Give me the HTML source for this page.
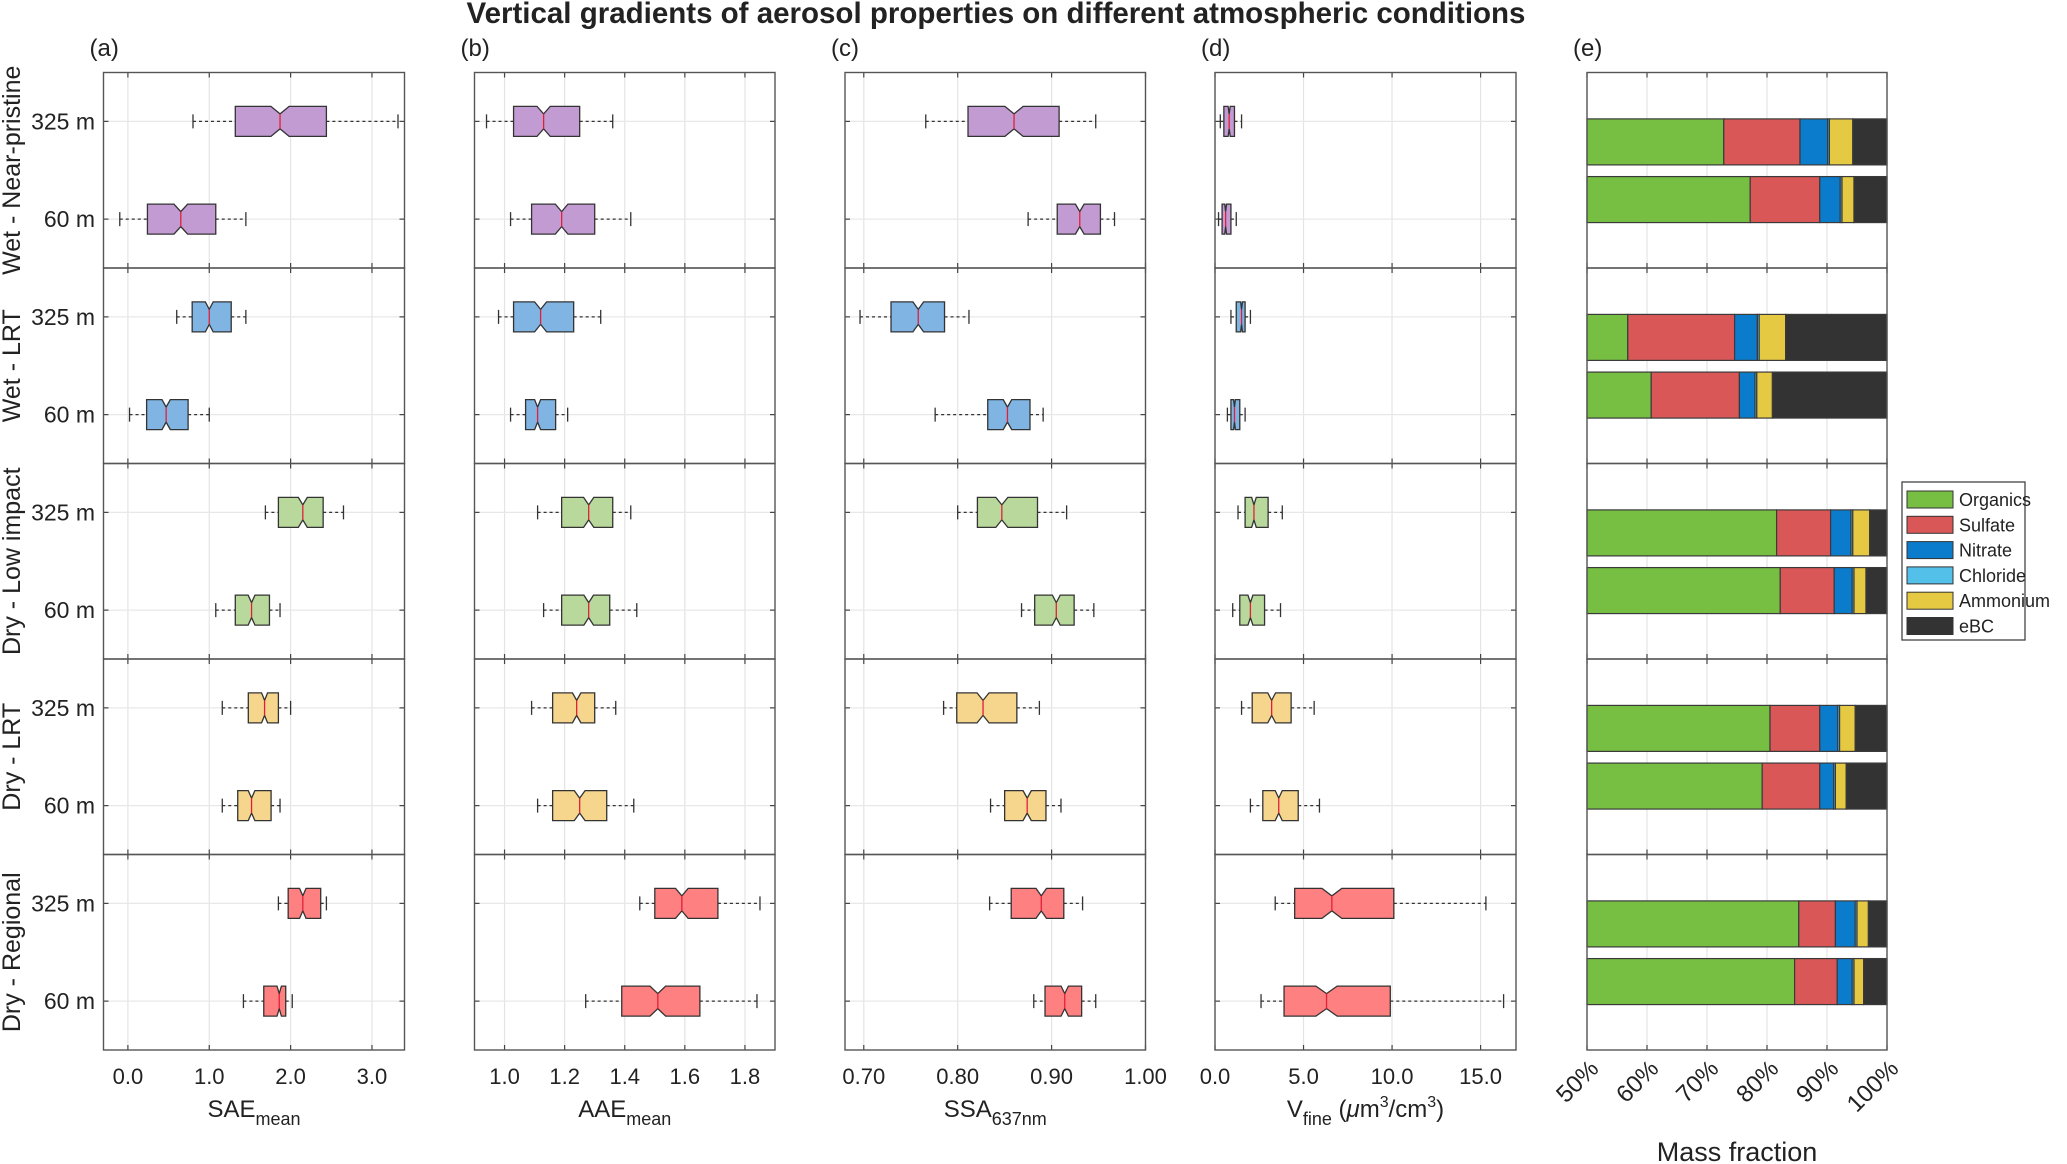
<!DOCTYPE html>
<html><head><meta charset="utf-8"><style>
html,body{margin:0;padding:0;background:#fff;}
svg{display:block;font-family:"Liberation Sans",Arial,sans-serif;}
</style></head><body>
<svg id="chart" width="2067" height="1164" viewBox="0 0 2067 1164" xmlns="http://www.w3.org/2000/svg">
<text x="996" y="23" text-anchor="middle" font-size="29.5" font-weight="bold" fill="#222">Vertical gradients of aerosol properties on different atmospheric conditions</text>
<g id="root"></g>
</svg>
<script>
// ---------- data ----------
const conditions = ["Wet - Near-pristine","Wet - LRT","Dry - Low impact","Dry - LRT","Dry - Regional"];
const heights = ["325 m","60 m"];
// box stats: [low whisker, q1, median, q3, high whisker] for [325 m, 60 m] per condition
const saeStats = [
 [[0.80,1.32,1.87,2.44,3.32],[-0.10,0.24,0.65,1.08,1.45]],
 [[0.60,0.79,1.00,1.27,1.45],[0.02,0.23,0.47,0.74,1.00]],
 [[1.69,1.85,2.15,2.40,2.65],[1.08,1.32,1.52,1.74,1.87]],
 [[1.16,1.48,1.68,1.85,2.00],[1.16,1.35,1.52,1.76,1.87]],
 [[1.85,1.97,2.15,2.37,2.44],[1.42,1.67,1.86,1.94,2.02]]
];
const aaeStats = [
 [[0.94,1.03,1.13,1.25,1.36],[1.02,1.09,1.19,1.30,1.42]],
 [[0.98,1.03,1.12,1.23,1.32],[1.02,1.07,1.11,1.17,1.21]],
 [[1.11,1.19,1.28,1.36,1.42],[1.13,1.19,1.28,1.35,1.44]],
 [[1.09,1.16,1.24,1.30,1.37],[1.11,1.16,1.25,1.34,1.43]],
 [[1.45,1.50,1.59,1.71,1.85],[1.27,1.39,1.51,1.65,1.84]]
];
const ssaStats = [
 [[0.766,0.811,0.860,0.908,0.947],[0.875,0.906,0.930,0.952,0.967]],
 [[0.696,0.729,0.758,0.786,0.812],[0.776,0.832,0.853,0.877,0.891]],
 [[0.800,0.821,0.847,0.885,0.916],[0.868,0.882,0.905,0.924,0.945]],
 [[0.785,0.799,0.827,0.863,0.887],[0.835,0.850,0.874,0.894,0.910]],
 [[0.834,0.857,0.889,0.913,0.933],[0.881,0.893,0.914,0.932,0.947]]
];
const vfineStats = [
 [[0.3,0.5,0.8,1.1,1.5],[0.2,0.4,0.6,0.9,1.2]],
 [[0.9,1.2,1.5,1.7,2.0],[0.7,0.9,1.1,1.4,1.7]],
 [[1.3,1.7,2.2,3.0,3.8],[1.0,1.4,2.0,2.8,3.7]],
 [[1.5,2.1,3.2,4.3,5.6],[2.0,2.7,3.6,4.7,5.9]],
 [[3.4,4.5,6.6,10.1,15.3],[2.6,3.9,6.3,9.9,16.3]]
];
// mass fractions (%) per condition for [325 m, 60 m]
const organics = [[72.8,77.2],[56.8,60.7],[81.6,82.2],[80.5,79.2],[85.3,84.6]];
const sulfate  = [[12.7,11.6],[17.8,14.7],[9.0,9.0],[8.3,9.6],[6.1,7.1]];
const nitrate  = [[4.6,3.4],[3.8,2.6],[3.4,3.0],[3.0,2.3],[3.3,2.5]];
const chloride = [[0.3,0.3],[0.3,0.3],[0.3,0.3],[0.3,0.3],[0.3,0.3]];
const ammonium = [[3.9,2.0],[4.4,2.6],[2.8,2.0],[2.6,1.8],[1.9,1.6]];
const saeTicks = [0,1,2,3], saeTickLabels = ["0.0","1.0","2.0","3.0"];
const aaeTicks = [1.0,1.2,1.4,1.6,1.8], aaeTickLabels = ["1.0","1.2","1.4","1.6","1.8"];
const ssaTicks = [0.7,0.8,0.9,1.0], ssaTickLabels = ["0.70","0.80","0.90","1.00"];
const vTicks = [0,5,10,15], vTickLabels = ["0.0","5.0","10.0","15.0"];
const mfTicks = [50,60,70,80,90,100], mfTickLabels = ["50%","60%","70%","80%","90%","100%"];
const species = ["Organics","Sulfate","Nitrate","Chloride","Ammonium","eBC"];

// ---------- layout ----------
const NS="http://www.w3.org/2000/svg";
const root=document.getElementById('root');
function mk(tag,attrs,parent){const e=document.createElementNS(NS,tag);for(const k in attrs)e.setAttribute(k,attrs[k]);(parent||root).appendChild(e);return e;}
const TOP=72.5, ROWH=195.5, NR=5, BOTTOM=TOP+ROWH*NR;
const rowColors=["#c39bd3","#7fb4e3","#b9d89b","#f6d58d","#ff8080"];
const specColors=["#77bf42","#d95757","#0a7ccb","#53c0ea","#e6c942","#333333"];
function yPos(r,h){return TOP+r*ROWH+(h===0?0.25:0.75)*ROWH;}
function yBar(r,h){return TOP+r*ROWH+(h===0?0.355:0.65)*ROWH;}

const panels=[
 {id:"sae",x0:103.5,x1:404.5,d0:-0.3,d1:3.4,stats:saeStats,ticks:saeTicks,tl:saeTickLabels,label:"(a)",title:"SAE",sub:"mean"},
 {id:"aae",x0:474.5,x1:775,d0:0.9,d1:1.9,stats:aaeStats,ticks:aaeTicks,tl:aaeTickLabels,label:"(b)",title:"AAE",sub:"mean"},
 {id:"ssa",x0:845,x1:1145.5,d0:0.68,d1:1.0,stats:ssaStats,ticks:ssaTicks,tl:ssaTickLabels,label:"(c)",title:"SSA",sub:"637nm"},
 {id:"vfine",x0:1215,x1:1516,d0:0,d1:17,stats:vfineStats,ticks:vTicks,tl:vTickLabels,label:"(d)",title:"V",sub:"fine"},
 {id:"mass",x0:1587,x1:1887,d0:50,d1:100,ticks:mfTicks,tl:mfTickLabels,label:"(e)"}
];

panels.forEach(p=>{
 const sx=v=>p.x0+(v-p.d0)/(p.d1-p.d0)*(p.x1-p.x0);
 const g=mk('g',{});
 
 
 p.ticks.forEach((t,ti)=>{
  const x=sx(t);
  const gl=mk('line',{x1:x,x2:x,y1:TOP,y2:BOTTOM,stroke:"#e4e4e4","stroke-width":1.2},g);
  
  
  for(let r=0;r<=NR;r++){
   const y=TOP+r*ROWH;
   if(r>0) mk('line',{x1:x,x2:x,y1:y,y2:y-5,stroke:"#444","stroke-width":1.2},g);
   if(r<NR) mk('line',{x1:x,x2:x,y1:y,y2:y+5,stroke:"#444","stroke-width":1.2},g);
  }
  let tx;
  if(p.id==="mass"){
   const ax=x+13, ay=1070;
   tx=mk('text',{x:ax,y:ay,"text-anchor":"end","font-size":24,fill:"#222",transform:`rotate(-45 ${ax} ${ay})`},g);
  } else {
   tx=mk('text',{x:x,y:1084,"text-anchor":"middle","font-size":22,fill:"#222"},g);
  }
  tx.textContent=p.tl[ti];
  
  
 });
 for(let r=0;r<NR;r++)for(let h=0;h<2;h++){
  const y=yPos(r,h);
  if(p.id!=="mass"){
   mk('line',{x1:p.x0,x2:p.x1,y1:y,y2:y,stroke:"#e8e8e8","stroke-width":1.2},g);
   mk('line',{x1:p.x0,x2:p.x0+5,y1:y,y2:y,stroke:"#444","stroke-width":1.2},g);
   mk('line',{x1:p.x1,x2:p.x1-5,y1:y,y2:y,stroke:"#444","stroke-width":1.2},g);
  }
 }
 for(let r=0;r<NR;r++)for(let h=0;h<2;h++){
  if(p.id==="mass"){
   const y=yBar(r,h);
   const vals=[organics[r][h],sulfate[r][h],nitrate[r][h],chloride[r][h],ammonium[r][h]];
   let cum=0;
   const tot=vals.reduce((a,b)=>a+b,0);
   const segs=vals.concat([100-tot]);
   segs.forEach((v,i)=>{
    const a=Math.max(cum,50), b=cum+v; cum=b;
    if(b<=50) return;
    const rc=mk('rect',{x:sx(a),y:y-23,width:sx(b)-sx(a),height:46,fill:specColors[i],stroke:"#3a3a3a","stroke-width":1.2},g);
    
    
   });
  } else {
   const y=yPos(r,h);
   const s=p.stats[r][h];
   const bh=15, iq=s[3]-s[1], n=0.1*iq;
   const bg=mk('g',{},g);
   
   
   mk('line',{x1:sx(s[0]),x2:sx(s[1]),y1:y,y2:y,stroke:"#333","stroke-width":1.3,"stroke-dasharray":"3,3"},bg);
   mk('line',{x1:sx(s[3]),x2:sx(s[4]),y1:y,y2:y,stroke:"#333","stroke-width":1.3,"stroke-dasharray":"3,3"},bg);
   mk('line',{x1:sx(s[0]),x2:sx(s[0]),y1:y-7,y2:y+7,stroke:"#333","stroke-width":1.3},bg);
   mk('line',{x1:sx(s[4]),x2:sx(s[4]),y1:y-7,y2:y+7,stroke:"#333","stroke-width":1.3},bg);
   const a=sx(s[1]),b=sx(Math.max(s[1],s[2]-n)),m=sx(s[2]),c=sx(Math.min(s[3],s[2]+n)),d=sx(s[3]);
   const pts=[[a,y-bh],[b,y-bh],[m,y-bh/2],[c,y-bh],[d,y-bh],[d,y+bh],[c,y+bh],[m,y+bh/2],[b,y+bh],[a,y+bh]].map(q=>q.join(',')).join(' ');
   mk('polygon',{points:pts,fill:rowColors[r],stroke:"#333","stroke-width":1.3},bg);
   mk('line',{x1:m,x2:m,y1:y-bh/2,y2:y+bh/2,stroke:"#e0203a","stroke-width":1.3},bg);
  }
 }
 for(let r=0;r<NR;r++){
  const fr=mk('rect',{x:p.x0,y:TOP+r*ROWH,width:p.x1-p.x0,height:ROWH,fill:"none",stroke:"#555","stroke-width":1.4},g);
  
  
 }
 const pl=mk('text',{x:p.x0-14,y:56,"font-size":24,fill:"#222"},g);
 pl.textContent=p.label;
 
 
 const cx=(p.x0+p.x1)/2;
 if(p.id==="mass"){
  const t=mk('text',{x:cx,y:1161,"text-anchor":"middle","font-size":27,fill:"#222"},g);
  t.textContent="Mass fraction";
  
  
 } else {
  const t=mk('text',{x:cx,y:1117,"text-anchor":"middle","font-size":24,fill:"#222"},g);
  
  
  t.appendChild(document.createTextNode(p.title));
  const sb=mk('tspan',{"font-size":18,dy:8},t); sb.textContent=p.sub;
  if(p.id==="vfine"){
   const r1=mk('tspan',{"font-size":24,dy:-8},t); r1.textContent=" (";
   const mu=mk('tspan',{"font-style":"italic"},t); mu.textContent="μ";
   const r2=mk('tspan',{},t); r2.textContent="m";
   const s3=mk('tspan',{"font-size":16,dy:-10},t); s3.textContent="3";
   const r3=mk('tspan',{"font-size":24,dy:10},t); r3.textContent="/cm";
   const s4=mk('tspan',{"font-size":16,dy:-10},t); s4.textContent="3";
   const r4=mk('tspan',{"font-size":24,dy:10},t); r4.textContent=")";
  }
 }
});

for(let r=0;r<NR;r++){
 const cy=TOP+r*ROWH+ROWH/2;
 const t=mk('text',{x:0,y:0,"text-anchor":"middle","font-size":25,fill:"#222",transform:`translate(20 ${cy}) rotate(-90)`});
 t.textContent=conditions[r];
 
 
 for(let h=0;h<2;h++){
  const ht=mk('text',{x:95,y:yPos(r,h)+8,"text-anchor":"end","font-size":23,fill:"#222"});
  ht.textContent=heights[h];
  
  
 }
}

const lg=mk('g',{});


mk('rect',{x:1902,y:482,width:123,height:158,fill:"#fff",stroke:"#444","stroke-width":1.3},lg);
species.forEach((s,i)=>{
 const y=491+i*25.3;
 const sw=mk('rect',{x:1907,y:y,width:46,height:17,fill:specColors[i],stroke:"#333","stroke-width":1},lg);
 
 
 const t=mk('text',{x:1959,y:y+15,"font-size":18,fill:"#222"},lg);
 t.textContent=s;
 
 
});
</script>
</body></html>
